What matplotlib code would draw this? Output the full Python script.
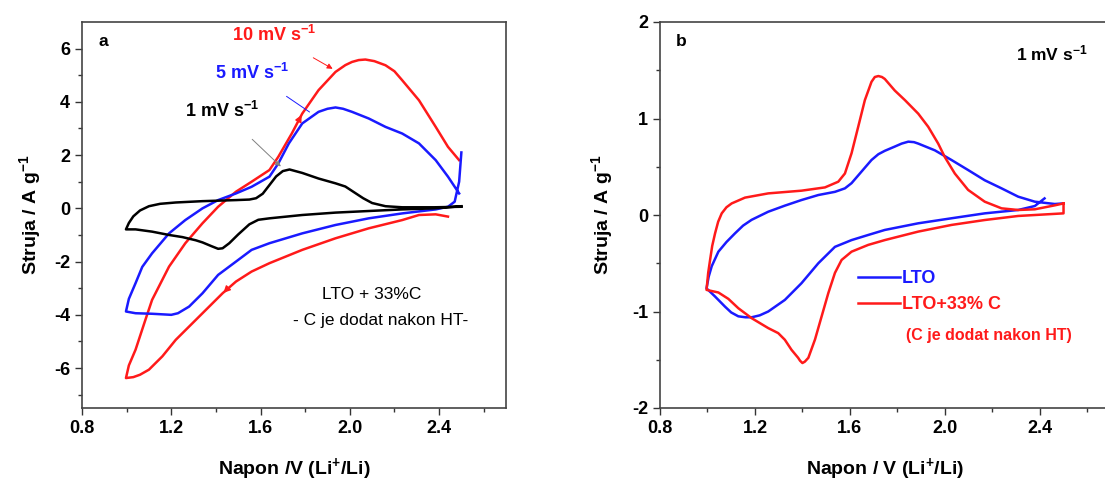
import matplotlib.pyplot as plt

plt.rcParams['font.family'] = ['Liberation Sans', 'DejaVu Sans']
plt.rcParams['font.weight'] = 'bold'
plt.rcParams['axes.labelweight'] = 'bold'
plt.rcParams['axes.unicode_minus'] = False
plt.rcParams['mathtext.fontset'] = 'custom'
plt.rcParams['mathtext.rm'] = 'Liberation Sans:bold'
plt.rcParams['mathtext.bf'] = 'Liberation Sans:bold'
plt.rcParams['mathtext.default'] = 'bf'

# panel a: LTO + 33%C at three scan rates
v10 = [2.44, 2.385, 2.31, 2.235, 2.085, 1.936, 1.787, 1.64, 1.56, 1.49, 1.43, 1.37, 1.31, 1.22, 1.16, 1.10, 1.06, 1.03, 0.997,
       1.01, 1.04, 1.084, 1.114, 1.19, 1.263, 1.34, 1.41, 1.49, 1.56, 1.64, 1.68, 1.74, 1.787, 1.86, 1.936, 1.98, 2.01,
       2.04, 2.07, 2.11, 2.16, 2.20, 2.235, 2.31, 2.385, 2.44, 2.49]
i10 = [-0.31, -0.225, -0.25, -0.44, -0.75, -1.125, -1.56, -2.06, -2.375, -2.75, -3.19, -3.69, -4.19, -4.94, -5.56, -6.06, -6.25, -6.34, -6.375,
       -5.9, -5.31, -4.19, -3.44, -2.19, -1.31, -0.56, 0.06, 0.625, 1.0, 1.44, 1.94, 2.81, 3.56, 4.44, 5.125, 5.38, 5.5,
       5.57, 5.59, 5.53, 5.375, 5.15, 4.81, 4.06, 3.06, 2.31, 1.81]

v5 = [2.5, 2.49, 2.47, 2.44, 2.385, 2.235, 2.085, 1.936, 1.787, 1.64, 1.56, 1.49, 1.41, 1.34, 1.28, 1.23, 1.20, 1.114, 1.04, 0.997,
      1.01, 1.04, 1.07, 1.114, 1.19, 1.263, 1.34, 1.41, 1.49, 1.56, 1.64, 1.68, 1.727, 1.787, 1.86, 1.90, 1.936, 1.97, 2.01,
      2.085, 2.16, 2.235, 2.31, 2.385, 2.44, 2.49]
i5 = [2.1, 1.0, 0.25, 0.06, -0.04, -0.19, -0.375, -0.625, -0.94, -1.31, -1.56, -2.0, -2.5, -3.19, -3.69, -3.94, -4.0, -3.96, -3.94, -3.875,
      -3.4, -2.81, -2.2, -1.69, -0.94, -0.44, 0.0, 0.31, 0.56, 0.81, 1.19, 1.69, 2.44, 3.19, 3.625, 3.74, 3.79, 3.74, 3.625,
      3.375, 3.06, 2.81, 2.44, 1.81, 1.19, 0.56]

v1 = [2.5, 2.38, 2.235, 2.085, 1.936, 1.787, 1.64, 1.59, 1.55, 1.50, 1.46, 1.43, 1.41, 1.38, 1.34, 1.31, 1.25, 1.19, 1.114,
      1.04, 0.997, 1.01, 1.03, 1.06, 1.10, 1.15, 1.22, 1.34, 1.49, 1.55, 1.58, 1.61, 1.64, 1.67, 1.70, 1.73, 1.787, 1.86,
      1.936, 1.98, 2.02, 2.06, 2.10, 2.16, 2.235, 2.38, 2.5]
i1 = [0.08, 0.0, -0.04, -0.1, -0.16, -0.25, -0.375, -0.43, -0.6, -0.98, -1.31, -1.5, -1.52, -1.42, -1.28, -1.2, -1.08, -1.0, -0.875,
      -0.79, -0.79, -0.55, -0.3, -0.08, 0.08, 0.17, 0.22, 0.27, 0.31, 0.33, 0.38, 0.55, 0.875, 1.2, 1.4, 1.46, 1.33, 1.12,
      0.94, 0.82, 0.6, 0.38, 0.2, 0.08, 0.04, 0.04, 0.06]

# panel b: 1 mV/s, LTO vs LTO+33% C
v_lto = [2.42, 2.379, 2.309, 2.168, 2.028, 1.888, 1.747, 1.677, 1.607, 1.537, 1.467, 1.396, 1.326, 1.256, 1.22, 1.186, 1.16,
         1.13, 1.10, 1.074, 1.032, 0.996, 1.005, 1.018, 1.046, 1.08, 1.116, 1.15, 1.186, 1.256, 1.326, 1.396, 1.467, 1.537,
         1.579, 1.607, 1.649, 1.691, 1.72, 1.747, 1.79, 1.818, 1.846, 1.87, 1.888, 1.958, 2.028, 2.098, 2.168, 2.239,
         2.309, 2.379, 2.463, 2.5]
i_lto = [0.172, 0.093, 0.052, 0.017, -0.034, -0.086, -0.155, -0.207, -0.26, -0.33, -0.5, -0.707, -0.88, -1.0, -1.04, -1.06, -1.06,
         -1.05, -1.01, -0.95, -0.845, -0.76, -0.64, -0.53, -0.38, -0.28, -0.19, -0.11, -0.05, 0.034, 0.097, 0.155, 0.207, 0.24,
         0.276, 0.33, 0.45, 0.57, 0.63, 0.665, 0.71, 0.74, 0.76, 0.755, 0.74, 0.67, 0.57, 0.466, 0.36, 0.276,
         0.19, 0.138, 0.114, 0.12]

v_ltoc = [2.5, 2.5, 2.309, 2.168, 2.028, 1.888, 1.747, 1.677, 1.607, 1.565, 1.537, 1.509, 1.481, 1.453, 1.425, 1.41, 1.40,
          1.39, 1.382, 1.354, 1.326, 1.298, 1.256, 1.186, 1.13, 1.088, 1.046, 0.996, 1.003, 1.011, 1.02, 1.032, 1.045,
          1.06, 1.08, 1.102, 1.158, 1.256, 1.396, 1.495, 1.551, 1.579, 1.607, 1.635, 1.663, 1.691, 1.705, 1.72, 1.735,
          1.747, 1.789, 1.832, 1.888, 1.93, 1.972, 2.0, 2.042, 2.098, 2.168, 2.239, 2.309, 2.379, 2.463, 2.5]
i_ltoc = [0.12, 0.017, -0.01, -0.052, -0.103, -0.172, -0.26, -0.31, -0.38, -0.466, -0.6, -0.81, -1.05, -1.29, -1.48, -1.52, -1.534,
          -1.51, -1.48, -1.397, -1.293, -1.224, -1.172, -1.069, -0.966, -0.869, -0.803, -0.776, -0.6, -0.466, -0.32, -0.19, -0.07,
          0.017, 0.08, 0.12, 0.18, 0.224, 0.252, 0.286, 0.345, 0.43, 0.64, 0.914, 1.19, 1.38, 1.43, 1.44, 1.43,
          1.41, 1.29, 1.19, 1.05, 0.914, 0.74, 0.60, 0.43, 0.26, 0.138, 0.069, 0.052, 0.059, 0.10, 0.12]

red = '#ff1a1a'
blue = '#1a1aff'

fig = plt.figure(figsize=(11.05, 4.82), dpi=100)
ax1 = fig.add_axes([82 / 1105, 1 - 408 / 482, 424 / 1105, 386 / 482])
ax2 = fig.add_axes([660 / 1105, 1 - 408 / 482, 451 / 1105, 386 / 482])

ax1.plot(v10, i10, color=red, lw=1.8)
ax1.plot(v5, i5, color=blue, lw=1.8)
ax1.plot(v1, i1, color='black', lw=1.8)

# scan direction marks on the 10 mV/s curve
ax1.annotate('', xy=(1.79, 3.6), xytext=(1.765, 3.2),
             arrowprops=dict(arrowstyle='-|>', color=red, lw=1, mutation_scale=10))
ax1.annotate('', xy=(1.425, -3.25), xytext=(1.46, -2.95),
             arrowprops=dict(arrowstyle='-|>', color=red, lw=1, mutation_scale=10))

ax1.annotate('10 mV s$^{-1}$', xy=(1.934, 5.19), xytext=(1.66, 6.5), color=red, fontsize=13,
             ha='center', va='center',
             arrowprops=dict(arrowstyle='-|>', color=red, lw=0.7, shrinkA=14, mutation_scale=8))
ax1.annotate('5 mV s$^{-1}$', xy=(1.83, 3.56), xytext=(1.56, 5.1), color=blue, fontsize=13,
             ha='center', va='center',
             arrowprops=dict(arrowstyle='-', color=blue, lw=0.7, shrinkA=14))
ax1.annotate('1 mV s$^{-1}$', xy=(1.70, 1.5), xytext=(1.43, 3.65), color='black', fontsize=13,
             ha='center', va='center',
             arrowprops=dict(arrowstyle='-|>', color='gray', lw=0.7, shrinkA=16, mutation_scale=8))

ax1.text(2.10, -3.25, 'LTO + 33%C', ha='center', va='center', fontsize=12.5, fontweight='normal')
ax1.text(2.14, -4.2, '- C je dodat nakon HT-', ha='center', va='center', fontsize=12.5, fontweight='normal')
ax1.text(0.04, 0.95, 'a', transform=ax1.transAxes, fontsize=12.5, va='center')

ax1.set_xlim(0.8, 2.7)
ax1.set_ylim(-7.5, 7)
ax1.set_xticks([0.8, 1.2, 1.6, 2.0, 2.4])
ax1.set_xticks([1.0, 1.4, 1.8, 2.2, 2.6], minor=True)
ax1.set_yticks([-6, -4, -2, 0, 2, 4, 6])
ax1.set_yticks([-7, -5, -3, -1, 1, 3, 5], minor=True)
ax1.set_xlabel('Napon /V (Li$^{+}$/Li)', fontsize=14, labelpad=14)
ax1.set_ylabel('Struja / A g$^{-1}$', fontsize=14, labelpad=8)

ax2.plot(v_lto, i_lto, color=blue, lw=1.8, label='LTO')
ax2.plot(v_ltoc, i_ltoc, color=red, lw=1.8, label='LTO+33% C')
leg = ax2.legend(loc='upper left', bbox_to_anchor=(0.42, 0.38), frameon=False, fontsize=13,
                 handlelength=2.3, handletextpad=0.1, labelspacing=0.5, borderpad=0)
for txt, c in zip(leg.get_texts(), [blue, red]):
    txt.set_color(c)
ax2.text(0.545, 0.175, '(C je dodat nakon HT)', transform=ax2.transAxes, color=red, fontsize=11.5)
ax2.text(2.45, 1.67, '1 mV s$^{-1}$', ha='center', va='center', fontsize=12.5)
ax2.text(0.035, 0.95, 'b', transform=ax2.transAxes, fontsize=12.5, va='center')

ax2.set_xlim(0.8, 2.7)
ax2.set_ylim(-2, 2)
ax2.set_xticks([0.8, 1.2, 1.6, 2.0, 2.4])
ax2.set_xticks([1.0, 1.4, 1.8, 2.2, 2.6], minor=True)
ax2.set_yticks([-2, -1, 0, 1, 2])
ax2.set_yticks([-1.5, -0.5, 0.5, 1.5], minor=True)
ax2.set_xlabel('Napon / V (Li$^{+}$/Li)', fontsize=14, labelpad=14)
ax2.set_ylabel('Struja / A g$^{-1}$', fontsize=14, labelpad=12)
ax2.spines['right'].set_visible(False)

for ax in (ax1, ax2):
    ax.tick_params(which='major', direction='out', length=5, width=1, labelsize=13, colors='#333333',
                   labelcolor='black')
    ax.tick_params(which='minor', direction='out', length=3, width=1, colors='#333333')
    for s in ax.spines.values():
        s.set_color('#444444')
        s.set_linewidth(1.2)
    for lab in ax.get_xticklabels() + ax.get_yticklabels():
        lab.set_fontweight('bold')

fig.savefig('out.png', dpi=100)
